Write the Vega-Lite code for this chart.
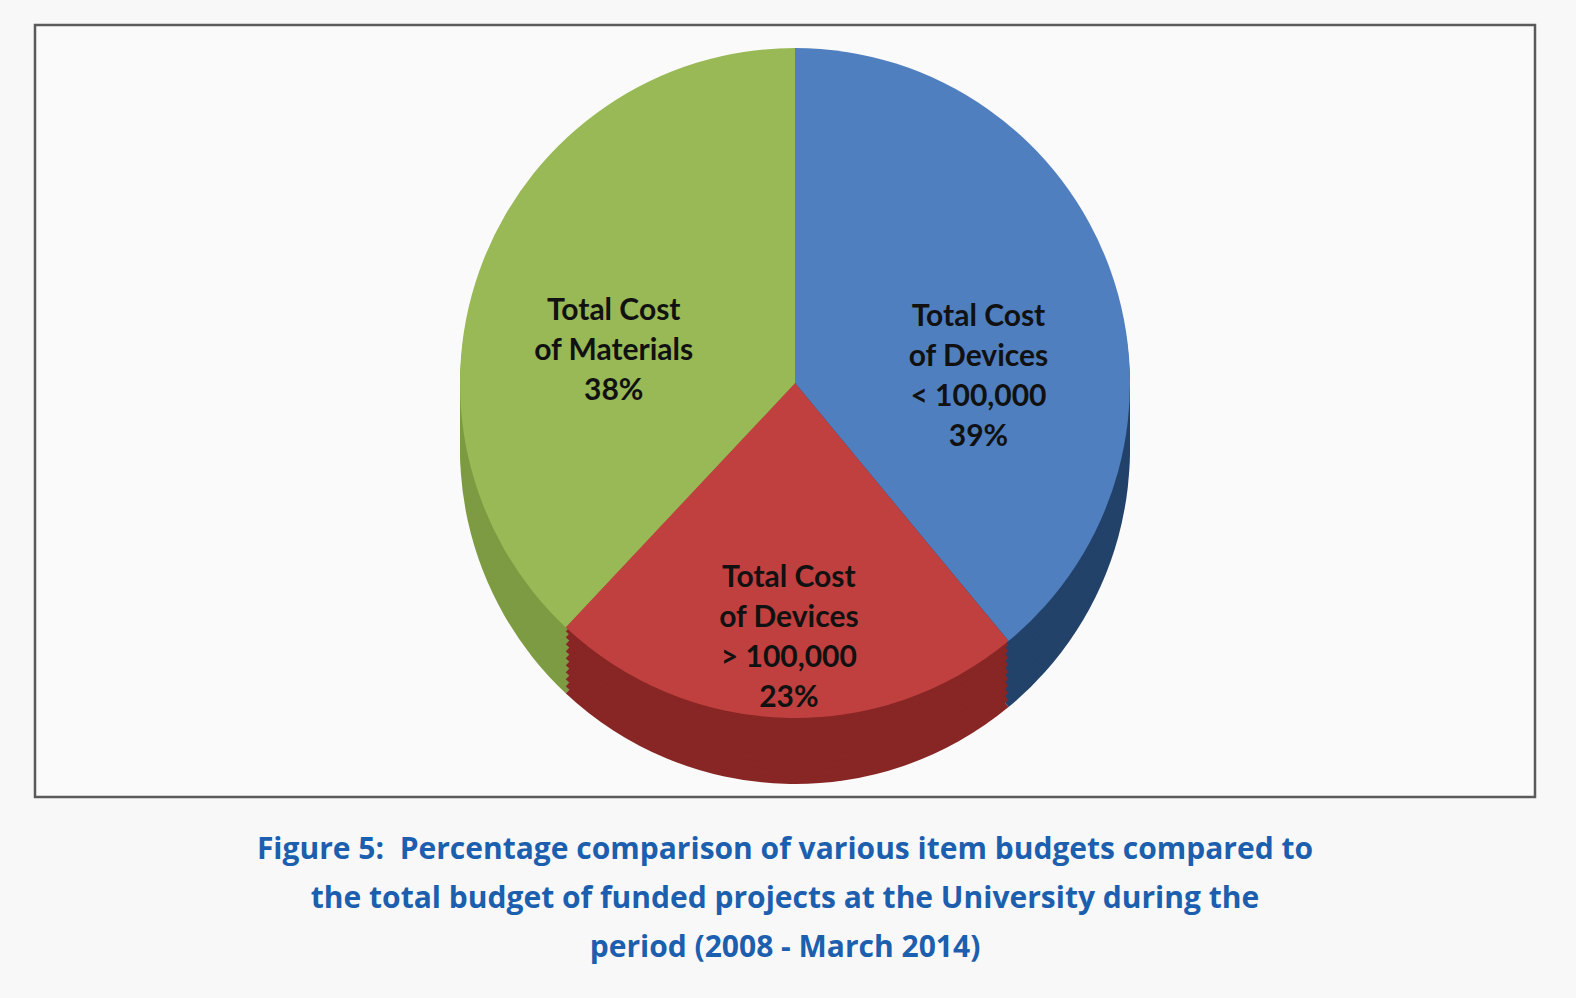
{
  "$schema": "https://vega.github.io/schema/vega-lite/v6.json",
  "width": 1500,
  "height": 772,
  "autosize": {"type": "none"},
  "padding": {"left": 35, "top": 25, "right": 41, "bottom": 201},
  "background": "#f8f8f8",
  "view": {"stroke": "#5a5a5a", "strokeWidth": 2.5, "fill": "#fafafa"},
  "config": {
    "view": {"stroke": "#5a5a5a", "strokeWidth": 2.5, "fill": "#fafafa"}
  },
  "title": {
    "text": [
      "Figure 5:\u00a0 Percentage comparison of various item budgets compared to",
      "the total budget of funded projects at the University during the",
      "period (2008 - March 2014)"
    ],
    "orient": "bottom",
    "anchor": "middle",
    "offset": 38,
    "color": "#1b5fae",
    "font": "Open Sans",
    "fontSize": 30,
    "fontWeight": "bold",
    "lineHeight": 49
  },
  "data": {
    "values": [
      {"idx": 1, "item": "Total Cost of Devices < 100,000", "label": "Total Cost\nof Devices\n< 100,000\n39%", "pct": 39},
      {"idx": 2, "item": "Total Cost of Devices > 100,000", "label": "Total Cost\nof Devices\n> 100,000\n23%", "pct": 23},
      {"idx": 3, "item": "Total Cost of Materials", "label": "Total Cost\nof Materials\n38%", "pct": 38}
    ]
  },
  "encoding": {
    "theta": {"field": "pct", "type": "quantitative", "stack": true},
    "order": {"field": "idx", "type": "quantitative"},
    "color": {
      "field": "item",
      "type": "nominal",
      "scale": {
        "domain": ["Total Cost of Devices < 100,000", "Total Cost of Devices > 100,000", "Total Cost of Materials"],
        "range": ["#22426a", "#872624", "#7d9b42"]
      },
      "legend": null
    }
  },
  "layer": [
    {"mark": {"type": "arc", "radius": 335, "xOffset": 10, "yOffset": 38}},
    {"mark": {"type": "arc", "radius": 335, "xOffset": 10, "yOffset": 31}},
    {"mark": {"type": "arc", "radius": 335, "xOffset": 10, "yOffset": 24}},
    {"mark": {"type": "arc", "radius": 335, "xOffset": 10, "yOffset": 17}},
    {"mark": {"type": "arc", "radius": 335, "xOffset": 10, "yOffset": 10}},
    {"mark": {"type": "arc", "radius": 335, "xOffset": 10, "yOffset": 3}},
    {"mark": {"type": "arc", "radius": 335, "xOffset": 10, "yOffset": -4}},
    {"mark": {"type": "arc", "radius": 335, "xOffset": 10, "yOffset": -11}},
    {"mark": {"type": "arc", "radius": 335, "xOffset": 10, "yOffset": -18}},
    {"mark": {"type": "arc", "radius": 335, "xOffset": 10, "yOffset": -24}},
    {
      "mark": {"type": "arc", "radius": 335, "xOffset": 10, "yOffset": -28},
      "encoding": {
        "fill": {
          "field": "item",
          "type": "nominal",
          "scale": {
            "domain": ["Total Cost of Devices < 100,000", "Total Cost of Devices > 100,000", "Total Cost of Materials"],
            "range": ["#4f7fbe", "#c0403f", "#98b955"]
          },
          "legend": null
        }
      }
    },
    {
      "mark": {
        "type": "text",
        "radius": 195,
        "xOffset": 10,
        "yOffset": -28,
        "font": "Lato",
        "fontSize": 30,
        "fontWeight": "bold",
        "lineBreak": "\n",
        "lineHeight": 40,
        "color": "#111111",
        "align": "center",
        "baseline": "middle"
      },
      "encoding": {
        "text": {"field": "label", "type": "nominal"},
        "color": {"value": "#111111"}
      }
    }
  ],
  "resolve": {"scale": {"fill": "independent"}}
}
